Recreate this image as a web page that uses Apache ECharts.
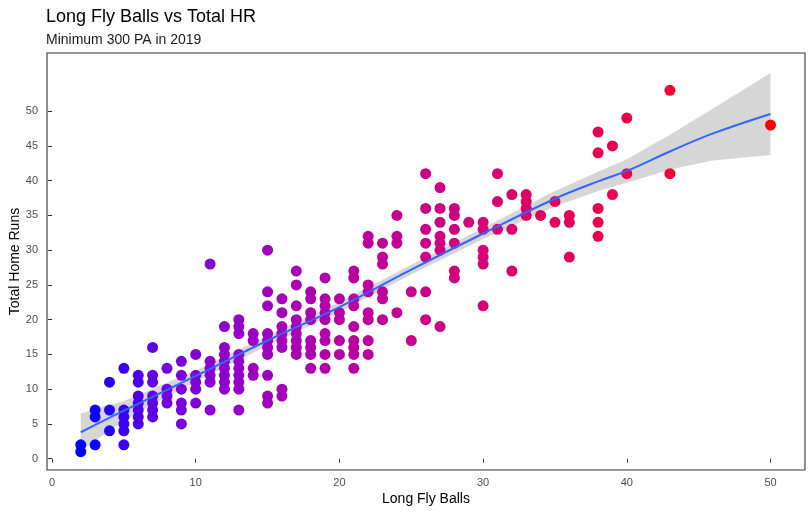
<!DOCTYPE html>
<html>
<head>
<meta charset="utf-8">
<script src="https://cdn.jsdelivr.net/npm/echarts@6/dist/echarts.min.js"></script>
<style>
html,body{margin:0;padding:0;background:#fff;}
#chart{width:812px;height:516px;}
</style>
</head>
<body>
<div id="chart"></div>
<script>
// Long fly balls (x) and the home-run totals of the hitters at each x
const flyBalls = [2,3,4,5,6,7,8,9,10,11,12,13,14,15,16,17,18,19,20,21,22,23,24,25,26,27,28,29,30,31,32,33,34,35,36,38,39,40,43,50];
const homeRuns = [
  [2,1],
  [7,6,2],
  [11,7,4],
  [13,7,6,5,4,2],
  [12,11,9,8,7,6,5],
  [16,12,11,9,8,7,6],
  [13,10,9,8],
  [14,12,10,8,7,5],
  [15,12,11,10,8],
  [28,14,13,12,11,7],
  [19,16,15,14,13,12,11,10],
  [20,19,18,15,14,13,12,11,10,7],
  [18,17,13,12],
  [30,24,22,18,17,16,15,12,9,8],
  [23,21,19,18,17,16,10,9],
  [27,25,22,20,19,18,17,16,15],
  [24,23,21,20,17,16,15,13],
  [26,23,22,21,20,18,17,15,13],
  [23,21,20,17,15],
  [27,26,23,22,19,17,16,15,13],
  [32,31,25,24,21,20,17,15],
  [31,29,28,24,23,20],
  [35,32,31,21],
  [24,17],
  [41,36,33,31,29,24,20],
  [39,36,34,32,31,30,19],
  [36,35,33,31,27,26],
  [34],
  [34,33,30,29,28,22],
  [41,37,33],
  [38,33,27],
  [38,37,36,35],
  [35],
  [37,34],
  [35,34,29],
  [47,44,36,34,32],
  [45,38],
  [49,41],
  [53,41],
  [48]
];

// LOESS fit and confidence band
const smoothX     = [2,   5,   10,   15,   20,   25,   30,   35,   38,   40,   43,   46,   50];
const smoothFit   = [3.8, 6.9, 11.9, 17.0, 21.8, 27.2, 32.4, 37.4, 39.9, 41.4, 44.2, 46.8, 49.6];
const smoothLower = [1.1, 5.5, 11.1, 16.3, 21.1, 26.5, 31.6, 36.3, 38.5, 39.7, 41.6, 42.9, 43.7];
const smoothUpper = [6.5, 8.3, 12.7, 17.7, 22.5, 27.9, 33.2, 38.5, 41.3, 43.1, 46.6, 50.4, 55.5];

// Axis ticks
const xTicks = [0,10,20,30,40,50];
const yTicks = [0,5,10,15,20,25,30,35,40,45,50];

// Blue -> red gradient (Lab-like interpolation)
const gradient = ['#0000FF','#7300E0','#9B00C2','#B500A5','#CA0089','#DA006C','#E8004F','#F40031','#FF0000'];

const points = [];
flyBalls.forEach((fb, i) => homeRuns[i].forEach(hr => points.push([fb, hr])));

const FONT = 'Liberation Sans, Arial, sans-serif';
const chart = echarts.init(document.getElementById('chart'), null, {renderer: 'canvas'});

chart.setOption({
  animation: false,
  backgroundColor: '#fff',
  title: {
    text: 'Long Fly Balls vs Total HR',
    subtext: 'Minimum 300 PA in 2019',
    left: 46, top: 8, padding: 0, itemGap: 7,
    textStyle: {fontFamily: FONT, fontSize: 18, fontWeight: 'normal', color: '#000'},
    subtextStyle: {fontFamily: FONT, fontSize: 14, color: '#1a1a1a'}
  },
  grid: {
    left: 47, right: 7, top: 53, bottom: 46,
    outerBoundsMode: 'none', containLabel: false,
    show: true, borderColor: '#333', borderWidth: 1.1, backgroundColor: '#fff'
  },
  xAxis: {
    type: 'value', min: -0.35, max: 52.4,
    name: 'Long Fly Balls', nameLocation: 'middle', nameGap: 22, nameMoveOverlap: false,
    nameTextStyle: {fontFamily: FONT, fontSize: 14, color: '#000'},
    splitLine: {show: false},
    axisLine: {show: false},
    axisTick: {show: true, inside: false, length: 4, lineStyle: {color: '#333'}, customValues: xTicks},
    axisLabel: {fontFamily: FONT, fontSize: 11, color: '#4D4D4D', margin: 7, customValues: xTicks}
  },
  yAxis: {
    type: 'value', min: -1.63, max: 58.37,
    name: 'Total Home Runs', nameLocation: 'middle', nameGap: 25, nameRotate: 90, nameMoveOverlap: false,
    nameTextStyle: {fontFamily: FONT, fontSize: 14, color: '#000'},
    splitLine: {show: false},
    axisLine: {show: false},
    axisTick: {show: true, inside: false, length: 4, lineStyle: {color: '#333'}, customValues: yTicks},
    axisLabel: {fontFamily: FONT, fontSize: 11, color: '#4D4D4D', margin: 9, customValues: yTicks}
  },
  visualMap: {
    type: 'continuous', show: false, dimension: 0, seriesIndex: 1,
    min: 2, max: 50, inRange: {color: gradient}
  },
  series: [
    {
      type: 'custom', silent: true, z: 1,
      data: smoothX.map((x, i) => [x, smoothLower[i], smoothUpper[i]]),
      encode: {x: 0, y: [1, 2]},
      renderItem: function (params, api) {
        if (params.dataIndex !== 0) return null;
        const pts = [];
        for (let i = 0; i < smoothX.length; i++) pts.push(api.coord([smoothX[i], smoothUpper[i]]));
        for (let i = smoothX.length - 1; i >= 0; i--) pts.push(api.coord([smoothX[i], smoothLower[i]]));
        return {type: 'polygon', shape: {points: pts}, style: {fill: '#D6D6D6'}};
      }
    },
    {
      type: 'scatter', z: 2, symbol: 'circle', symbolSize: 11,
      data: points,
      itemStyle: {opacity: 1}
    },
    {
      type: 'line', z: 3, smooth: 0.4, showSymbol: false, silent: true,
      data: smoothX.map((x, i) => [x, smoothFit[i]]),
      lineStyle: {color: '#3366FF', width: 2}
    }
  ]
});
</script>
</body>
</html>
